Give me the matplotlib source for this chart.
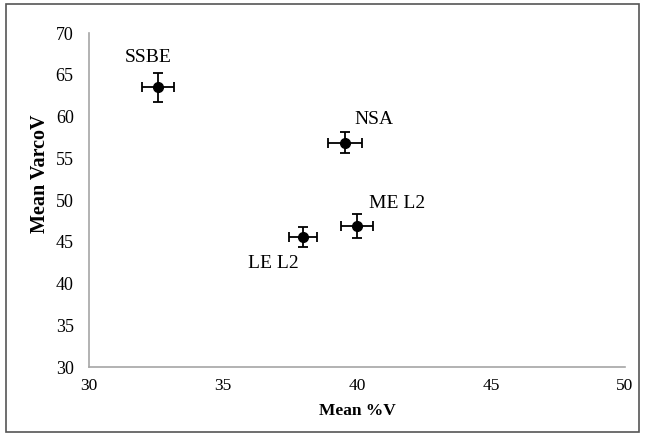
import matplotlib.pyplot as plt
from matplotlib.patches import Rectangle

groups = ['SSBE', 'NSA', 'ME L2', 'LE L2']
mean_v = [32.57, 39.55, 40.0, 38.0]
mean_varco = [63.5, 56.9, 46.9, 45.6]
err_v = [0.6, 0.62, 0.6, 0.52]
err_varco = [1.7, 1.2, 1.4, 1.2]

plt.rcParams['font.family'] = ['Liberation Serif', 'DejaVu Serif']

fig = plt.figure(figsize=(6.45, 4.36), dpi=100)
ax = fig.add_axes([0.138, 0.158, 0.831, 0.766])

ax.errorbar(mean_v, mean_varco, xerr=err_v, yerr=err_varco, fmt='o', color='black',
            markersize=7, elinewidth=1.3, capsize=3.5, capthick=1.3)

# label offsets in points
offsets = {'SSBE': (-7, 21.5), 'NSA': (21, 16.5), 'ME L2': (29, 16.5), 'LE L2': (-21.5, -19)}
for g, x, y in zip(groups, mean_v, mean_varco):
    ax.annotate(g, (x, y), xytext=offsets[g], textcoords='offset points',
                ha='center', va='center', fontsize=14)

ax.set_xlim(30, 50)
ax.set_ylim(30, 70)
ax.set_xticks(range(30, 51, 5))
ax.set_yticks(range(30, 71, 5))
ax.tick_params(axis='x', length=0, labelsize=12.5, pad=8)
ax.tick_params(axis='y', length=0, labelsize=13, pad=11)
for s in ['top', 'right']:
    ax.spines[s].set_visible(False)
for s in ['left', 'bottom']:
    ax.spines[s].set_color('#a6a6a6')
    ax.spines[s].set_linewidth(1.2)

ax.set_xlabel('Mean %V', fontsize=12.5, fontweight='bold', labelpad=6)
ax.set_ylabel('Mean VarcoV', fontsize=14.5, fontweight='bold')
ax.yaxis.set_label_coords(-0.072, 0.58)

# frame around the whole figure
fig.patches.append(Rectangle((0.009, 0.01), 0.982, 0.98, transform=fig.transFigure,
                             fill=False, edgecolor='#555555', linewidth=1.2))

fig.savefig('out.png', dpi=100)
